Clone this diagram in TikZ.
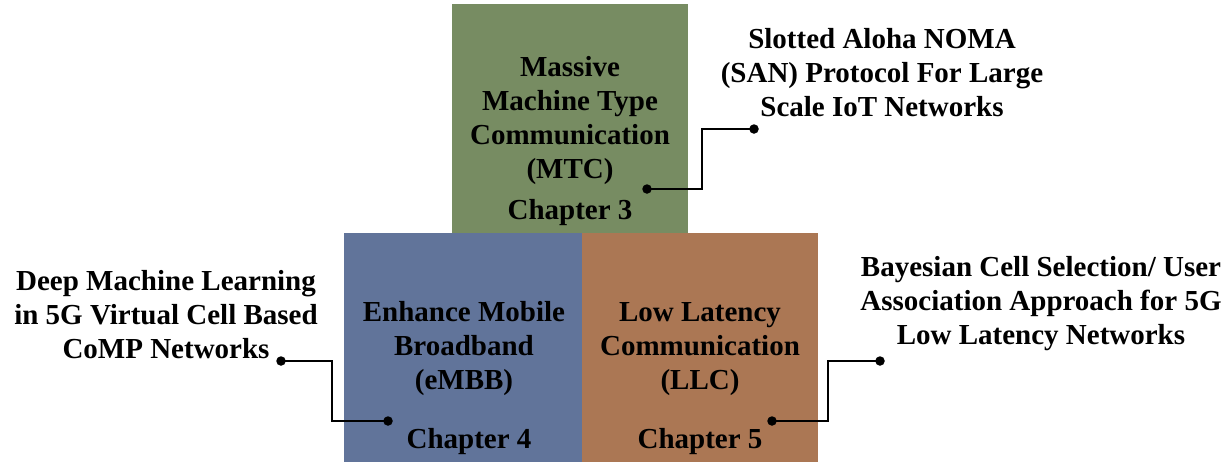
\documentclass[tikz,border=0pt]{standalone}
\usepackage{fontspec}
\setmainfont{Liberation Serif}
\definecolor{mtcgreen}{HTML}{778C62}
\definecolor{embbblue}{HTML}{61749A}
\definecolor{llcorange}{HTML}{AB7754}
\begin{document}
\begin{tikzpicture}[x=1pt,y=-1pt,
  box/.style={rectangle,inner sep=0pt,outer sep=0pt,draw=none},
  lbl/.style={align=center,inner sep=0pt,font=\bfseries\fontsize{29}{34}\selectfont},
  conn/.style={line width=2.6pt,line join=miter},
  dot/.style={circle,fill=black,inner sep=0pt,minimum size=9.5pt}]
\useasboundingbox (0,0) rectangle (1228,464);
% boxes
\node[box,fill=mtcgreen,minimum width=236pt,minimum height=229pt] (mtc) at (570,118.5) {};
\node[box,fill=embbblue,minimum width=238pt,minimum height=229pt] (embb) at (463,347.5) {};
\node[box,fill=llcorange,minimum width=236pt,minimum height=229pt] (llc) at (700,347.5) {};
% box texts
\node[lbl] (mtct) at (570,121) {Massive\\Machine Type\\Communication\\(MTC)};
\node[lbl] (ch3) at (570,213) {Chapter 3};
\node[lbl] (embbt) at (464,349) {Enhance Mobile\\Broadband\\(eMBB)};
\node[lbl] (ch4) at (469,442) {Chapter 4};
\node[lbl] (llct) at (700,349) {Low Latency\\Communication\\(LLC)};
\node[lbl] (ch5) at (700,442) {Chapter 5};
% side texts
\node[lbl] (san) at (882,73) {Slotted Aloha NOMA\\(SAN) Protocol For Large\\Scale IoT Networks};
\node[lbl] (dml) at (166,315) {Deep Machine Learning\\in 5G Virtual Cell Based\\CoMP Networks};
\node[lbl] (bcs) at (1041,304) {Bayesian Cell Selection/ User\\Association Approach for 5G\\Low Latency Networks};
% connector end points
\coordinate (a1) at (647,189);
\coordinate (a2) at (754,129);
\coordinate (b1) at (281,361);
\coordinate (b2) at (388,421);
\coordinate (c1) at (772,421);
\coordinate (c2) at (880,361);
\draw[conn] (a1) -- (702,189) |- (a2);
\draw[conn] (b1) -- (332,361) |- (b2);
\draw[conn] (c1) -- (828,421) |- (c2);
\foreach \p in {a1,a2,b1,b2,c1,c2} \node[dot] (d\p) at (\p) {};
\end{tikzpicture}
\end{document}
